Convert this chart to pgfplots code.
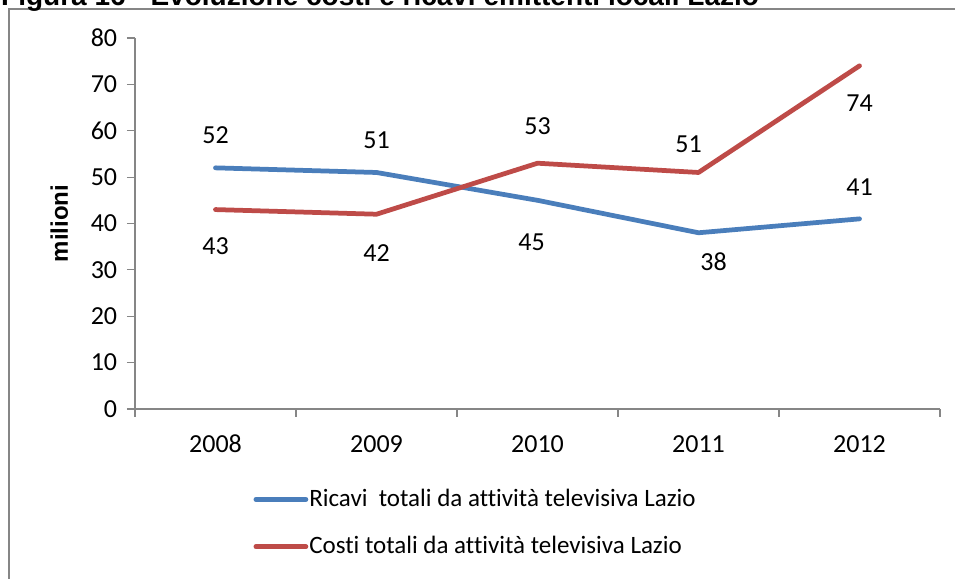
\documentclass[border=0pt]{standalone}
\usepackage{pgfplots}
\pgfplotsset{compat=1.18}
\usepackage{pgfplotstable}
\usepackage{fontspec}
\setmainfont{Carlito}[Ligatures=NoCommon]
\newfontfamily\arialfont{Liberation Sans}

\definecolor{ricavi}{HTML}{4A7EBB}
\definecolor{costi}{HTML}{BE4B48}
\definecolor{axisgray}{HTML}{868686}

% x = category index (2008..2012), dx/dy = label offset in pt
\pgfplotstableread{
x val dx dy
0 52 0 33
1 51 0 32
2 45 -6 -42
3 38 15 -29
4 41 0 32
}\ricavitab

\pgfplotstableread{
x val dx dy
0 43 0 -37
1 42 0 -39
2 53 0 37
3 51 -10 28
4 74 0 -37
}\costitab

\begin{document}
\fontsize{26}{31}\selectfont
\begin{tikzpicture}
\useasboundingbox (0,0) rectangle (955pt,578pt);
\draw[axisgray, line width=1.2pt] (9pt,-10pt) -- (9pt,569pt) -- (970pt,569pt);
\node[anchor=base west, inner sep=0pt, font=\arialfont\bfseries\fontsize{28}{32}\selectfont]
  at (1pt,572pt) {Figura 16 - Evoluzione costi e ricavi emittenti locali Lazio};

\begin{axis}[
    at={(135pt,169pt)}, anchor=south west,
    scale only axis, width=805pt, height=371pt,
    xmin=-0.5, xmax=4.5, ymin=0, ymax=80,
    clip=false,
    axis x line=bottom, axis y line=left,
    axis line style={-, axisgray, line width=1.2pt},
    tick style={axisgray, line width=1.2pt},
    tick align=outside,
    major tick length=8pt, minor tick length=8pt,
    ytick={0,10,...,80},
    xtick={0,1,2,3,4},
    xticklabels={2008,2009,2010,2011,2012},
    major x tick style={draw=none},
    minor xtick={-0.5,0.5,1.5,2.5,3.5,4.5},
    xticklabel style={text height=17pt, text depth=0pt, yshift=-10pt},
    yticklabel style={xshift=-1pt},
    /pgf/number format/assume math mode=true,
    ylabel={milioni},
    ylabel style={font=\arialfont\bfseries\fontsize{24}{28}\selectfont,
      at={(axis description cs:-0.094,0.5)}, anchor=center},
    legend style={draw=none, fill=none, inner sep=0pt,
      at={(axis description cs:0.147,-0.212)}, anchor=north west,
      row sep=24pt, nodes={inner sep=1pt, font=\fontsize{25}{30}\selectfont}},
    legend cell align=left,
    legend image code/.code={\draw[#1] (0pt,0pt) -- (50pt,0pt);},
    every node near coord/.append style={black, anchor=center,
      xshift=\dx pt, yshift=\dy pt},
]

\addplot[ricavi, line width=4.75pt, line cap=round, line join=round,
    nodes near coords,
    visualization depends on={\thisrow{dx} \as \dx},
    visualization depends on={\thisrow{dy} \as \dy}]
    table[x=x, y=val] {\ricavitab};

\addplot[costi, line width=4.75pt, line cap=round, line join=round,
    nodes near coords,
    visualization depends on={\thisrow{dx} \as \dx},
    visualization depends on={\thisrow{dy} \as \dy}]
    table[x=x, y=val] {\costitab};

\legend{Ricavi\ \ totali da attività televisiva Lazio,
        Costi totali da attività televisiva Lazio}
\end{axis}
\end{tikzpicture}
\end{document}
